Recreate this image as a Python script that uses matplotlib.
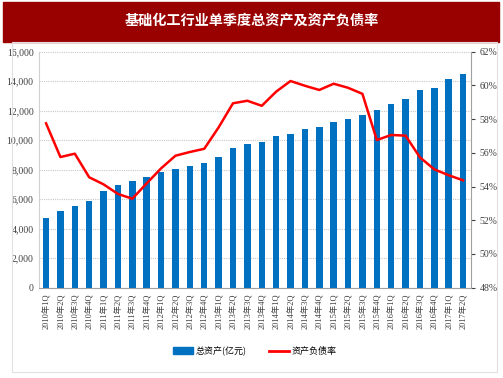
import matplotlib
matplotlib.use("Agg")
import matplotlib.pyplot as plt
from matplotlib.patches import Rectangle, Patch
from matplotlib.lines import Line2D
from matplotlib.ticker import FuncFormatter

# 季度标签
quarters = [f"{y}年{q}Q" for y in range(2010, 2018) for q in range(1, 5)][:30]

# 总资产（亿元）
assets = [4750, 5180, 5520, 5880, 6535, 6940, 7235, 7485, 7865, 8050,
          8230, 8475, 8860, 9490, 9740, 9880, 10260, 10440, 10760, 10895,
          11235, 11415, 11690, 12050, 12475, 12770, 13425, 13560, 14170, 14510]

# 资产负债率（%）
debt_ratio = [57.75, 55.75, 55.95, 54.55, 54.13, 53.56, 53.28, 54.19, 55.08, 55.83,
              56.05, 56.24, 57.51, 58.94, 59.09, 58.79, 59.63, 60.26, 59.98, 59.73,
              60.10, 59.86, 59.50, 56.76, 57.06, 57.02, 55.73, 55.02, 54.67, 54.37]

tick_font = ["Liberation Serif", "Noto Sans CJK SC"]

fig = plt.figure(figsize=(5.03, 3.78), dpi=100)

# 标题横幅
fig.patches.append(Rectangle((3 / 503, 1 - 42 / 378), 496 / 503, 40 / 378,
                             transform=fig.transFigure, color="#990000", zorder=0))
fig.patches.append(Rectangle((12 / 503, 6 / 378), 485 / 503, 330 / 378,
                             transform=fig.transFigure, fill=False,
                             edgecolor="#e0e0e0", lw=0.8, zorder=0))
fig.text(0.5, 1 - 21 / 378, "基础化工行业单季度总资产及资产负债率",
         color="white", fontsize=10.2, fontweight="bold",
         family=["Noto Sans CJK SC"], ha="center", va="center")

ax = fig.add_axes([39 / 503, 1 - 287.7 / 378, 432 / 503, 236 / 378])
x = list(range(len(quarters)))
ax.bar(x, assets, width=0.45, color="#0070C0", zorder=2)
ax.set_ylim(0, 16000)
ax.set_yticks(range(0, 16001, 2000))
ax.yaxis.set_major_formatter(FuncFormatter(lambda v, p: f"{int(v):,}"))
ax.set_xlim(-0.49, 29.55)
ax.set_xticks(x)
ax.set_xticklabels(quarters, rotation=90, fontsize=6, family=tick_font, color="#404040")
ax.grid(axis="y", color="#c8c8c8", linestyle=(0, (1, 1)), lw=0.8, zorder=0)
ax.tick_params(axis="y", length=0, labelsize=7, colors="#404040", pad=4)
ax.tick_params(axis="x", length=0, pad=4)
for lbl in ax.get_yticklabels():
    lbl.set_family(tick_font)
ax.spines["top"].set_visible(False)
ax.spines["left"].set_color("#d0d0d0")
ax.spines["bottom"].set_color("#a0a0a0")
ax.spines["right"].set_visible(False)

ax2 = ax.twinx()
ax2.plot(x, debt_ratio, color="#ff0000", lw=1.8, zorder=3)
ax2.set_ylim(48, 62)
ax2.set_yticks(range(48, 63, 2))
ax2.yaxis.set_major_formatter(FuncFormatter(lambda v, p: f"{int(v)}%"))
ax2.tick_params(axis="y", length=3, labelsize=7, colors="#404040", pad=3)
for lbl in ax2.get_yticklabels():
    lbl.set_family(tick_font)
ax2.spines["top"].set_visible(False)
ax2.spines["left"].set_visible(False)
ax2.spines["bottom"].set_visible(False)
ax2.spines["right"].set_color("#a0a0a0")

handles = [Patch(color="#0070C0"), Line2D([0], [0], color="#ff0000", lw=2)]
fig.legend(handles, ["总资产(亿元)", "资产负债率"], loc="center",
           bbox_to_anchor=(0.507, 1 - 351 / 378), ncol=2, frameon=False,
           prop={"family": ["Noto Sans CJK SC"], "size": 6.5},
           handlelength=2.2, handleheight=0.8, columnspacing=2.5, handletextpad=0.3)

fig.savefig("out.png", dpi=100)
